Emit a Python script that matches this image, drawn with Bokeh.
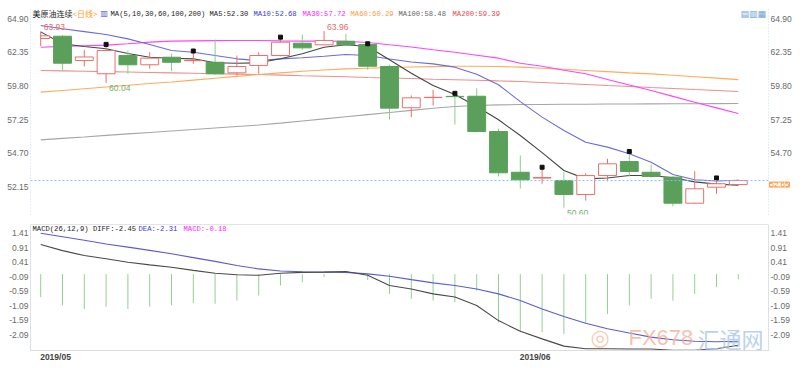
from bokeh.plotting import figure
from bokeh.models import Range1d, LinearAxis, FixedTicker, PrintfTickFormatter, Label, Span
from bokeh.layouts import column
from bokeh.embed import file_html
from bokeh.resources import INLINE
from bokeh.core.properties import value

# ---------------- data ----------------
idx = list(range(33))
opens = [63.40, 63.57, 61.73, 60.73, 62.11, 61.41, 61.98, 61.72, 61.60, 60.80, 61.36,
         62.11, 63.04, 62.92, 63.19, 62.94, 61.28, 58.16, 58.93, 59.02, 59.03, 56.36,
         53.28, 52.84, 52.66, 51.60, 53.03, 54.09, 53.28, 52.91, 50.94, 52.15, 52.35]
highs = [63.93, 63.65, 62.54, 62.95, 62.49, 62.36, 62.24, 62.45, 63.32, 62.11, 62.36,
         63.50, 63.70, 63.96, 63.75, 63.00, 61.41, 59.09, 59.52, 59.25, 59.64, 56.59,
         54.55, 53.66, 53.28, 53.21, 54.30, 54.85, 53.87, 52.96, 53.36, 52.85, 52.73]
lows = [62.82, 60.98, 61.28, 60.04, 60.73, 61.10, 60.92, 61.48, 60.65, 60.60, 60.73,
        62.05, 62.54, 62.90, 62.90, 61.03, 57.27, 57.45, 58.33, 56.89, 56.31, 52.96,
        52.05, 52.41, 50.60, 51.14, 52.60, 52.96, 52.88, 50.69, 50.89, 51.65, 52.28]
closes = [63.60, 61.53, 62.00, 62.49, 61.41, 61.91, 61.60, 61.74, 60.73, 61.28, 62.11,
          63.12, 62.69, 63.25, 62.92, 61.30, 58.13, 58.91, 58.95, 59.00, 56.36, 53.24,
          52.71, 52.88, 51.60, 53.03, 53.92, 53.34, 52.96, 50.94, 52.03, 52.41, 52.65]

ma5 = [63.90, 63.00, 62.79, 62.62, 62.26, 61.98, 61.90, 61.86, 61.56, 61.53, 61.56,
       61.86, 62.24, 62.74, 62.92, 62.79, 61.79, 60.77, 59.84, 59.16, 58.25, 57.25,
       56.06, 54.77, 53.41, 52.78, 52.85, 53.03, 53.03, 52.86, 52.55, 52.38, 52.30]
ma10 = [64.38, 64.13, 63.92, 63.70, 63.37, 62.94, 62.49, 62.36, 62.11, 61.86, 61.73,
        61.86, 61.94, 62.06, 62.19, 62.11, 61.85, 61.62, 61.48, 61.23, 60.70, 59.90,
        58.62, 57.45, 56.44, 55.55, 55.18, 54.68, 54.04, 53.11, 52.71, 52.62, 52.68]
ma30 = [62.74, 62.80, 62.85, 62.90, 63.00, 63.12, 63.20, 63.22, 63.24, 63.25, 63.25,
        63.22, 63.20, 63.20, 63.19, 63.10, 62.92, 62.75, 62.55, 62.36, 62.13, 61.91,
        61.53, 61.30, 61.00, 60.73, 60.30, 59.88, 59.46, 59.02, 58.58, 58.15, 57.72]
ma60 = [59.34, 59.47, 59.60, 59.73, 59.86, 59.99, 60.11, 60.25, 60.39, 60.53, 60.67,
        60.80, 60.92, 61.02, 61.10, 61.15, 61.20, 61.24, 61.27, 61.30, 61.30, 61.28,
        61.23, 61.15, 61.07, 60.98, 60.89, 60.80, 60.72, 60.62, 60.51, 60.40, 60.29]
ma100 = [55.73, 55.84, 55.95, 56.07, 56.18, 56.29, 56.40, 56.51, 56.63, 56.74, 56.85,
         57.00, 57.16, 57.32, 57.48, 57.64, 57.80, 57.96, 58.12, 58.25, 58.33, 58.38,
         58.40, 58.41, 58.42, 58.43, 58.44, 58.44, 58.45, 58.46, 58.46, 58.47, 58.48]
ma200 = [60.98, 60.95, 60.92, 60.89, 60.86, 60.83, 60.80, 60.77, 60.73, 60.70, 60.67,
         60.63, 60.58, 60.54, 60.50, 60.45, 60.41, 60.37, 60.32, 60.28, 60.24, 60.19,
         60.15, 60.07, 59.99, 59.92, 59.84, 59.77, 59.69, 59.62, 59.54, 59.47, 59.39]

diff = [1.02, 0.81, 0.64, 0.53, 0.41, 0.32, 0.24, 0.13, 0.03, -0.02, -0.04,
        0.03, 0.06, 0.07, 0.09, -0.04, -0.39, -0.51, -0.68, -0.79, -1.08, -1.60,
        -1.97, -2.23, -2.48, -2.57, -2.57, -2.58, -2.58, -2.62, -2.62, -2.57, -2.45]
dea = [1.41, 1.29, 1.17, 1.04, 0.93, 0.82, 0.70, 0.57, 0.44, 0.30, 0.18,
       0.11, 0.08, 0.07, 0.06, 0.01, -0.07, -0.19, -0.30, -0.39, -0.51, -0.68,
       -0.91, -1.20, -1.46, -1.69, -1.88, -2.03, -2.17, -2.26, -2.31, -2.33, -2.31]
macd_hist = [-0.79, -1.08, -1.20, -1.12, -1.20, -1.12, -1.08, -1.00, -1.02, -0.91, -0.74,
             -0.39, -0.28, -0.10, -0.02, -0.20, -0.68, -0.85, -0.91, -0.97, -0.57, -1.66,
             -2.00, -2.00, -2.06, -1.71, -1.37, -1.08, -0.85, -0.91, -0.68, -0.45, -0.18]

ticks_main = [52.15, 54.70, 57.25, 59.80, 62.35, 64.90]
ticks_macd = [1.41, 0.91, 0.41, -0.09, -0.59, -1.09, -1.59, -2.09]
date_idx = [0, 22]
date_labels = ["2019/05", "2019/06"]
marker_idx = [3, 7, 11, 15, 19, 23, 27, 31]

# ---------------- styling ----------------
UP = "#e8716b"
DOWN = "#5aa05a"
DOWN_WICK = "#8ccc8c"
AXIS_FONT = "Liberation Sans"
MONO = "Liberation Mono"
CJK = "Noto Sans CJK SC"
HALF = 0.41  # half candle width (in bar units)

xr = Range1d(-0.468, 33.385)


def style_axis(ax):
    ax.major_label_text_font = AXIS_FONT
    ax.major_label_text_font_size = "8.5px"
    ax.major_label_text_color = "#6a6a6a"
    ax.major_tick_out = 0
    ax.major_tick_in = 0
    ax.minor_tick_out = 0
    ax.minor_tick_in = 0
    ax.axis_line_color = "#c9dcef"
    ax.axis_line_dash = "1 2"
    ax.major_label_standoff = 2


# ---------------- main price panel ----------------
p1 = figure(width=800, height=224, x_range=xr, y_range=Range1d(50.085, 65.667),
            output_backend="svg", toolbar_location=None,
            x_axis_location=None, y_axis_location=None,
            min_border_left=30, min_border_right=32, min_border_top=8, min_border_bottom=10)
p1.outline_line_color = None
p1.xgrid.visible = False
p1.ygrid.visible = False

axl = LinearAxis(ticker=FixedTicker(ticks=ticks_main), formatter=PrintfTickFormatter(format="%.2f"))
style_axis(axl)
p1.add_layout(axl, "left")
axr = LinearAxis(ticker=FixedTicker(ticks=ticks_main[1:]), formatter=PrintfTickFormatter(format="%.2f"))
style_axis(axr)
p1.add_layout(axr, "right")

# MA lines
for ser, col in [(ma200, "#ee8f8c"), (ma100, "#a6a6a6"), (ma60, "#ffab5c"),
                 (ma30, "#ff44ff"), (ma10, "#6c6cd8"), (ma5, "#454545")]:
    p1.line(idx, ser, line_color=col, line_width=1.1)

# candles (the chart area starts at the first bar's centre)
up_i = [i for i in idx if closes[i] >= opens[i]]
dn_i = [i for i in idx if closes[i] < opens[i]]
p1.segment(x0=up_i, y0=[lows[i] for i in up_i], x1=up_i, y1=[highs[i] for i in up_i],
           line_color=UP, line_width=1)
p1.segment(x0=dn_i, y0=[lows[i] for i in dn_i], x1=dn_i, y1=[highs[i] for i in dn_i],
           line_color=DOWN_WICK, line_width=1)
p1.quad(left=[max(i - HALF, idx[0]) for i in up_i], right=[i + HALF for i in up_i],
        top=[closes[i] for i in up_i], bottom=[opens[i] for i in up_i],
        fill_color="white", line_color=UP, line_width=1)
p1.quad(left=[max(i - HALF, idx[0]) for i in dn_i], right=[i + HALF for i in dn_i],
        top=[opens[i] for i in dn_i], bottom=[closes[i] for i in dn_i],
        fill_color=DOWN, line_color=DOWN, line_width=1)

# event markers
p1.scatter(x=marker_idx, y=[highs[i] for i in marker_idx], marker="square", size=4,
           fill_color="#111111", line_color="#111111")

# max / min annotations
hi_i = [0, 13]
lo_i = [3, 24]
p1.text(x=hi_i, y=[highs[i] for i in hi_i], text=["%.2f" % highs[i] for i in hi_i],
        text_color="#e36c6c", text_font=value(AXIS_FONT), text_font_size="8.5px",
        text_align="left", text_baseline="middle", x_offset=3, y_offset=-4)
p1.text(x=lo_i, y=[lows[i] for i in lo_i], text=["%.2f" % lows[i] for i in lo_i],
        text_color="#6fb06f", text_font=value(AXIS_FONT), text_font_size="8.5px",
        text_align="left", text_baseline="middle", x_offset=3, y_offset=5)

# current price line + tag (tag lives in a side panel so it may sit beside the axis)
p1.add_layout(Span(location=closes[-1], dimension="width", line_color="#86c0f2",
                   line_dash="2 2", line_width=1))
p1.add_layout(Label(x=739, x_units="screen", y=closes[-1], y_units="data", y_offset=-4,
                    text="%.2f" % closes[-1], text_color="#ff8a1f", text_font=AXIS_FONT,
                    text_font_size="8px", text_baseline="middle", text_align="left",
                    border_line_color="#ffa24a", background_fill_color="white"), "below")


def lab(fig, x, y, text, color, font=MONO, size="7.2px", **kw):
    fig.add_layout(Label(x=x, y=y, x_units="screen", y_units="screen", text=text,
                         text_color=color, text_font=font, text_font_size=size,
                         text_baseline="middle", text_align="left", **kw))


# header legend (screen y measured from the frame bottom)
LY = 201
lab(p1, 2, LY, "美原油连续", "#222222", font=CJK, size="8px")
lab(p1, 42, LY, "<日线>", "#ff9a1a", font=CJK, size="8px")
lab(p1, 70, LY, "▥", "#5b63c9", font="DejaVu Sans", size="8px")
lab(p1, 80, LY, "MA(5,10,30,60,100,200)", "#222222")
lab(p1, 179, LY, "MA5:%.2f" % ma5[-1], "#222222")
lab(p1, 223, LY, "MA10:%.2f" % ma10[-1], "#3a3ad0")
lab(p1, 272, LY, "MA30:%.2f" % ma30[-1], "#ff22ff")
lab(p1, 320, LY, "MA60:%.2f" % ma60[-1], "#ff9a3c")
lab(p1, 368, LY, "MA100:%.2f" % ma100[-1], "#666666")
lab(p1, 422, LY, "MA200:%.2f" % ma200[-1], "#e24848")
lab(p1, 710, LY, "▤▥▦", "#6fa3dc", font="DejaVu Sans", size="9px")

# ---------------- MACD panel ----------------
p2 = figure(width=800, height=152, x_range=xr, y_range=Range1d(-2.63, 1.71),
            output_backend="svg", toolbar_location=None,
            x_axis_location=None, y_axis_location=None,
            min_border_left=30, min_border_right=32, min_border_top=0, min_border_bottom=26)
p2.outline_line_color = "#e4e4e4"
p2.xgrid.visible = False
p2.ygrid.visible = False

bl = LinearAxis(ticker=FixedTicker(ticks=ticks_macd), formatter=PrintfTickFormatter(format="%.2f"))
style_axis(bl)
p2.add_layout(bl, "left")
br = LinearAxis(ticker=FixedTicker(ticks=ticks_macd), formatter=PrintfTickFormatter(format="%.2f"))
style_axis(br)
p2.add_layout(br, "right")

# month labels start at their first bar: place each tick at the label's centre
date_ticks = [i + 0.68 for i in date_idx]
bx = LinearAxis(ticker=FixedTicker(ticks=date_ticks),
                major_label_overrides={t: s for t, s in zip(date_ticks, date_labels)})
bx.major_label_text_font = AXIS_FONT
bx.major_label_text_font_size = "8.5px"
bx.major_label_text_color = "#444444"
bx.major_label_text_font_style = "bold"
bx.major_tick_out = 0
bx.major_tick_in = 0
bx.minor_tick_out = 0
bx.minor_tick_in = 0
bx.axis_line_color = "#dddddd"
bx.major_label_standoff = 1
p2.add_layout(bx, "below")

p2.segment(x0=idx, y0=[0] * len(idx), x1=idx, y1=macd_hist,
           line_color=["#e88080" if v >= 0 else "#92d092" for v in macd_hist], line_width=1)
p2.line(idx, dea, line_color="#5c5cd0", line_width=1.1)
p2.line(idx, diff, line_color="#4a4a4a", line_width=1.1)

# watermark
lab(p2, 560, 13, "◎", "#f6b493", font="DejaVu Sans", size="22px", text_alpha=0.7)
lab(p2, 598, 13, "FX678", "#f4ad91", font="Liberation Sans", size="22px", text_alpha=0.75)
lab(p2, 667, 13, "汇通网", "#a9c6e6", font=CJK, size="22px", text_alpha=0.8)

# MACD title
MY = 122
lab(p2, 2, MY, "MACD(26,12,9) DIFF:%.2f" % diff[-1], "#222222")
lab(p2, 108, MY, "DEA:%.2f" % dea[-1], "#3a3ad0")
lab(p2, 153, MY, "MACD:%.2f" % macd_hist[-1], "#ff22ff")

layout = column(p1, p2, spacing=0)
open("out.html", "w").write(file_html(layout, INLINE))
